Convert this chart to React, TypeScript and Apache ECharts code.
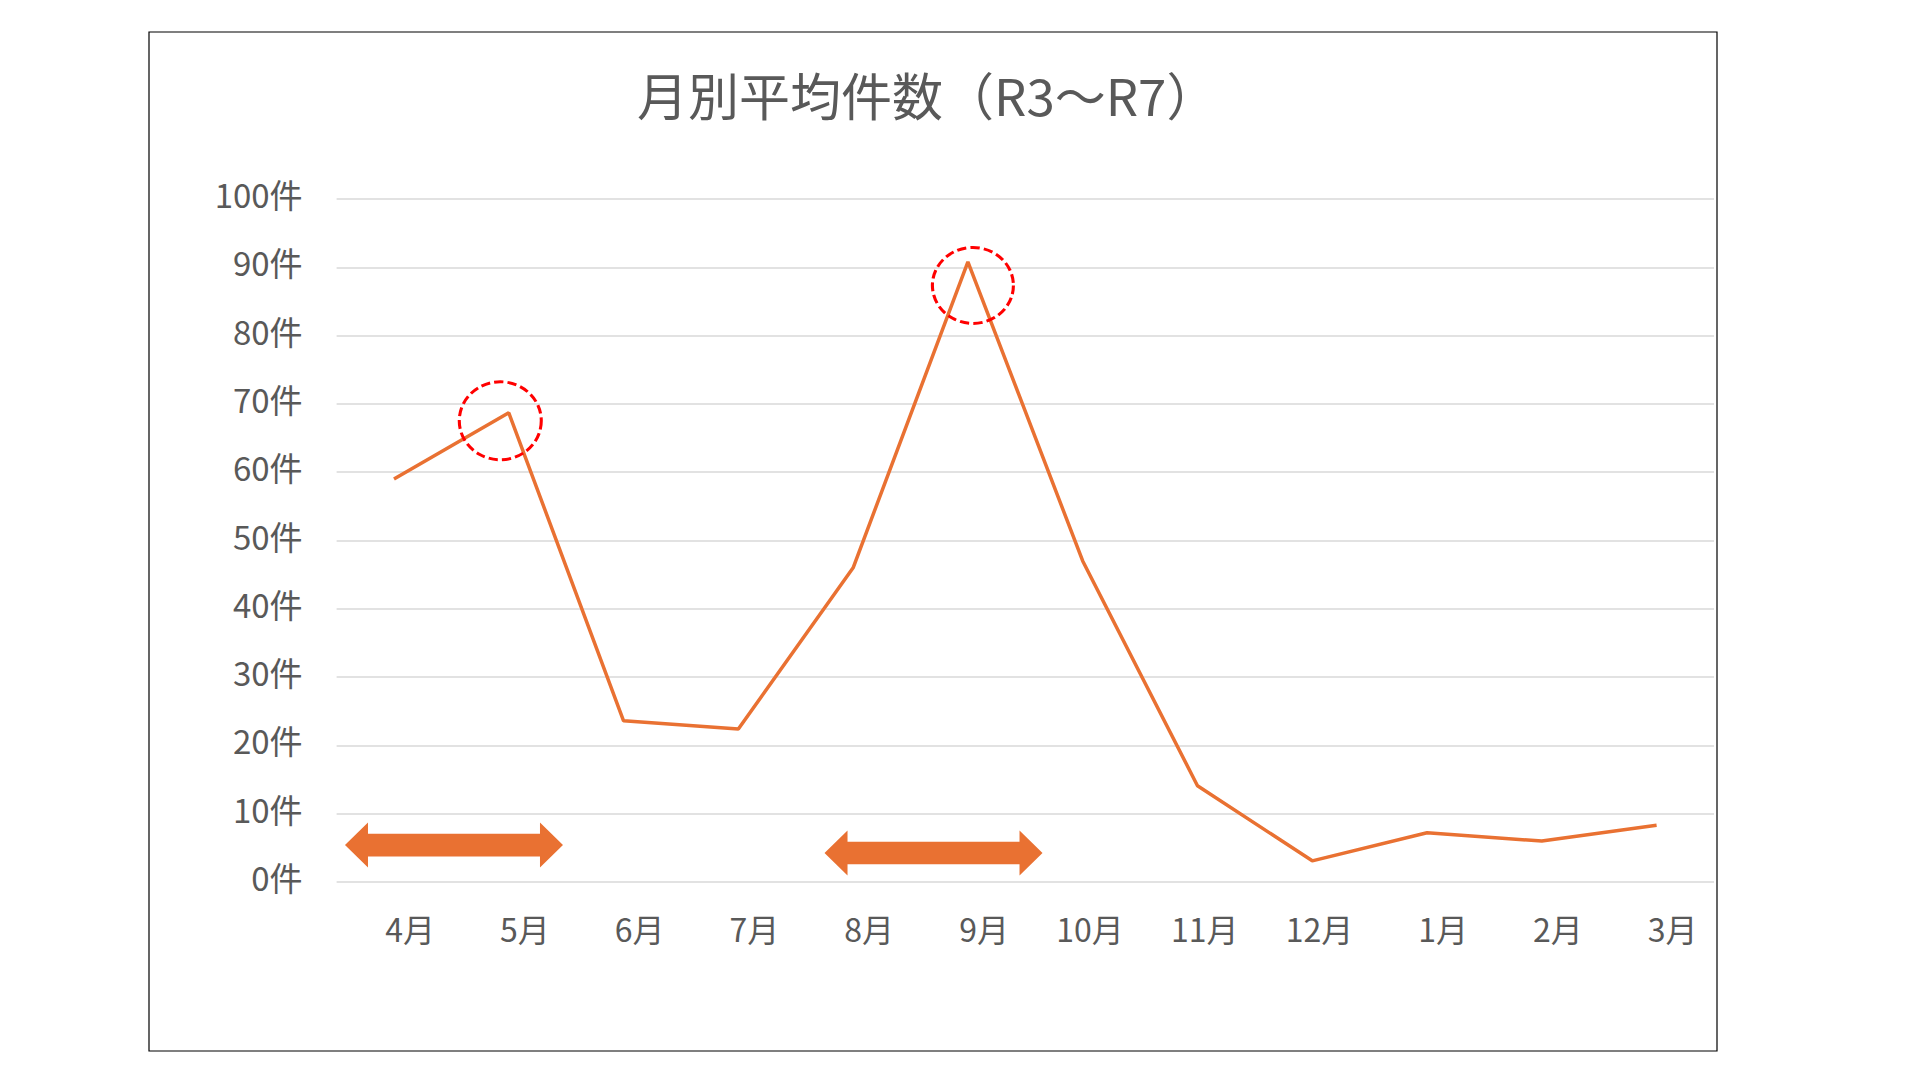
import React, { useEffect, useRef } from "react";
import * as echarts from "echarts";

// months of the fiscal year (April to March)
const categories = ["4月", "5月", "6月", "7月", "8月", "9月", "10月", "11月", "12月", "1月", "2月", "3月"];
// monthly average count, R3-R7
const monthlyAvg = [59, 68.7, 23.6, 22.4, 46, 90.8, 47, 14.1, 3.1, 7.2, 6, 8.3];
// y axis range and step
const yMin = 0;
const yMax = 100;
const yStep = 10;
// peaks marked with a dashed circle
const peakMonths = ["5月", "9月"];
// periods marked with a double arrow, and the level they sit at
const arrowFrom = ["4月", "8月"];
const arrowTo = ["5月", "9月"];
const arrowLevel = [5.4, 4.25];

const FONT = "'Noto Sans CJK JP', 'Noto Sans', sans-serif";
const TEXT = "#595959";
const ORANGE = "#E97132";

// double headed arrow polygon centred on 0,0
const arrowPoints = (len: number) => {
  const h = 23, t = 11.3, hh = 22.5, l = len / 2;
  return [
    [-l, 0], [-l + h, -hh], [-l + h, -t], [l - h, -t], [l - h, -hh],
    [l, 0], [l - h, hh], [l - h, t], [-l + h, t], [-l + h, hh],
  ];
};

const App: React.FC = () => {
  const chartRef = useRef<HTMLDivElement>(null);

  useEffect(() => {
    document.body.style.margin = "0";
    if (!chartRef.current) return;
    const chart = echarts.init(chartRef.current, undefined, { renderer: "svg" });

    // outer chart frame
    const frame = {
      type: "rect",
      shape: { x: 149, y: 32, width: 1568, height: 1019 },
      style: { fill: "none", stroke: "#000", lineWidth: 1.2 },
      z: 0,
    };

    chart.setOption({
      animation: false,
      backgroundColor: "#fff",
      title: {
        text: "月別平均件数（R3～R7）",
        left: 632,
        top: 63,
        textStyle: { fontFamily: FONT, fontSize: 51, fontWeight: "normal", color: TEXT },
      },
      grid: { left: 336.6, right: 206, top: 199, bottom: 195 },
      xAxis: {
        type: "category",
        data: categories,
        boundaryGap: true,
        axisLine: { show: false },
        axisTick: { show: false },
        axisLabel: {
          margin: 30,
          formatter: (v: string) => "{m|" + v + "}",
          rich: {
            m: { width: 82, align: "right", fontFamily: FONT, fontSize: 32, color: TEXT },
          },
        },
      },
      yAxis: {
        type: "value",
        min: yMin,
        max: yMax,
        interval: yStep,
        axisLine: { show: false },
        axisTick: { show: false },
        splitLine: { lineStyle: { color: "#d9d9d9", width: 1.5 } },
        axisLabel: {
          margin: 34,
          formatter: (v: number) => "{v|" + v + "件}",
          rich: {
            v: { fontFamily: FONT, fontSize: 33, color: TEXT, padding: [0, 0, 10, 0] },
          },
        },
      },
      series: [
        {
          type: "line",
          data: monthlyAvg,
          symbol: "none",
          lineStyle: { color: ORANGE, width: 3.5 },
          markPoint: {
            symbol: "circle",
            label: { show: false },
            itemStyle: {
              color: "transparent",
              borderColor: "#FF0000",
              borderWidth: 3,
              borderType: [9, 4],
            },
            data: peakMonths.map((m, i) => ({
              coord: [m, monthlyAvg[categories.indexOf(m)]],
              symbolSize: i === 0 ? [82, 78] : [81, 76],
              symbolOffset: i === 0 ? [-8.5, 8] : [5, 23.6],
            })),
          },
        },
      ],
      graphic: [frame],
    });

    // arrows placed from the axis scales
    const arrows = arrowFrom.map((from, i) => {
      const a = chart.convertToPixel({ gridIndex: 0 }, [from, arrowLevel[i]]) as number[];
      const b = chart.convertToPixel({ gridIndex: 0 }, [arrowTo[i], arrowLevel[i]]) as number[];
      const shift = i === 0 ? 2.6 : 23;
      return {
        type: "polygon",
        x: (a[0] + b[0]) / 2 + shift,
        y: a[1],
        shape: { points: arrowPoints(218) },
        style: { fill: ORANGE },
        z: 10,
      };
    });
    chart.setOption({ graphic: [frame, ...arrows] });

    return () => chart.dispose();
  }, []);

  return <div ref={chartRef} style={{ width: "1920px", height: "1077px" }} />;
};

export default App;
